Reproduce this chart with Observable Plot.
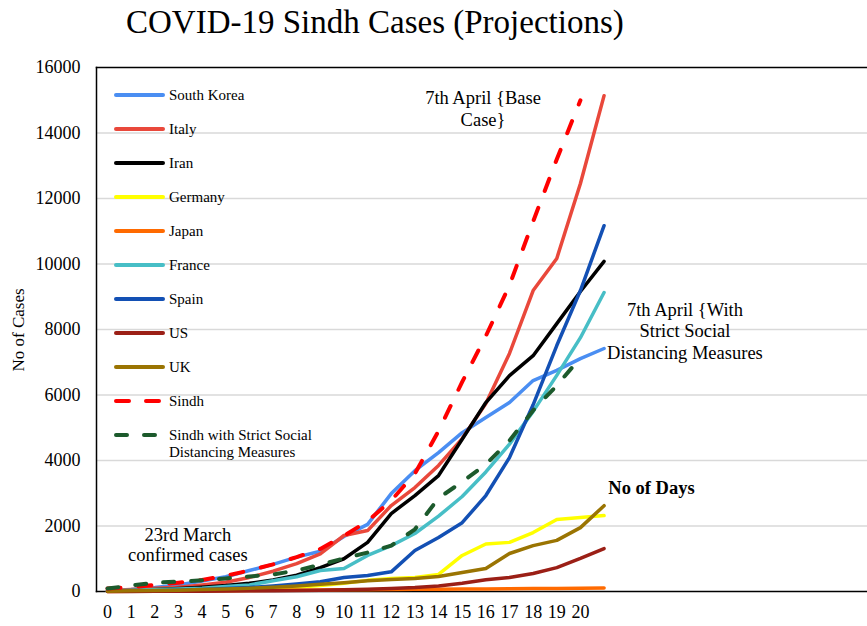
<!DOCTYPE html>
<html>
<head>
<meta charset="utf-8">
<script src="https://cdn.jsdelivr.net/npm/d3@7"></script>
<script src="https://cdn.jsdelivr.net/npm/@observablehq/plot@0.6"></script>
<style>
  html, body { margin: 0; padding: 0; background: #fff; }
  #wrap { position: relative; width: 867px; height: 626px; overflow: hidden; font-family: "Liberation Serif", "Times New Roman", serif; }
  #wrap svg, #wrap svg text, #wrap svg tspan { font-family: "Liberation Serif", "Times New Roman", serif !important; }
  #title { position: absolute; left: 126px; top: 3px; font-size: 33px; line-height: 38px; color: #000; white-space: nowrap; }
  #chart { position: absolute; left: 0; top: 0; }
  #overlay { position: absolute; left: 0; top: 0; pointer-events: none; }
</style>
</head>
<body>
<div id="wrap">
  <div id="chart"></div>
  <div id="title">COVID-19 Sindh Cases (Projections)</div>
  <svg id="overlay" width="867" height="626"></svg>
</div>
<script>
// ---- data ----
const days = [0,1,2,3,4,5,6,7,8,9,10,11,12,13,14,15,16,17,18,19,20,21];
const dayLabels = [0,1,2,3,4,5,6,7,8,9,10,11,12,13,14,15,16,17,18,19,20];
const caseTicks = [0,2000,4000,6000,8000,10000,12000,14000,16000];

const southKorea = [30,60,120,200,320,450,640,830,1050,1230,1680,2050,2990,3690,4240,4850,5310,5770,6440,6750,7110,7420];
const italy      = [30,60,100,130,200,280,430,620,850,1150,1710,1860,2625,3175,3850,4670,5740,7270,9190,10170,12460,15140];
const iran       = [10,30,60,90,130,180,250,350,500,730,1000,1500,2380,2930,3540,4650,5770,6590,7200,8180,9160,10080];
const germany    = [5,10,20,30,40,60,80,100,130,180,250,340,400,430,520,1100,1450,1500,1800,2200,2260,2320];
const japan      = [0,5,10,15,20,25,30,35,40,45,50,55,60,65,70,75,80,85,90,95,100,110];
const france     = [20,40,60,80,100,150,200,330,450,640,700,1100,1400,1770,2300,2900,3650,4500,5500,6600,7750,9130];
const spain      = [10,15,25,40,60,90,120,170,230,300,430,490,600,1250,1650,2100,2930,4090,5700,7510,9190,11170];
const us         = [0,2,5,8,10,15,20,25,30,40,50,70,90,120,170,250,360,430,550,730,1010,1310];
const uk         = [10,20,30,40,60,80,100,130,170,220,270,330,370,400,460,580,700,1160,1400,1560,1950,2620];
const sindh      = [90,130,200,270,350,480,640,830,1050,1300,1700,2150,2780,3600,4900,6400,7800,9350,11300,13200,15000];
const sindhStrict= [90,180,270,300,340,400,460,520,640,820,1010,1190,1400,1900,2850,3350,3880,4610,5530,6290,7140];

const seriesNames = ["South Korea","Italy","Iran","Germany","Japan","France","Spain","US","UK","Sindh","Sindh with Strict Social Distancing Measures"];
const seriesValues = [southKorea, italy, iran, germany, japan, france, spain, us, uk, sindh, sindhStrict];

// annotations (one entry per text line)
const annoText  = ["7th April {Base", "Case}", "7th April {With", "Strict Social", "Distancing Measures", "23rd March", "confirmed cases", "No of Days"];
const annoDay   = [15.88, 15.88, 24.42, 24.42, 24.42, 3.40, 3.40, 21.18];
const annoCases = [15300, 14630, 8800, 8160, 7510, 1930, 1320, 3390];

// ---- styles ----
const FONT = '"Liberation Serif", "Times New Roman", serif';
const seriesColors = ["#4a8ef2","#e9483b","#000000","#ffff00","#ff6a00","#47bec6","#1350b4","#9b1f16","#9a7402","#ff0000","#1c5a2c"];
const seriesDash   = [null,null,null,null,null,null,null,null,null,"13,18","11,17"];
const annoAnchor   = ["middle","middle","middle","middle","middle","middle","middle","start"];
const annoWeight   = ["normal","normal","normal","normal","normal","normal","normal","bold"];

const rows = seriesNames.flatMap((name, k) =>
  seriesValues[k].map((v, i) => ({series: name, day: days[i], cases: v})));

const lineMarks = seriesNames.map((name, k) =>
  Plot.line(rows.filter(r => r.series === name), {
    x: "day", y: "cases",
    stroke: seriesColors[k],
    strokeWidth: seriesDash[k] ? 4 : 3.5,
    strokeDasharray: seriesDash[k] || undefined,
    strokeLinecap: "round",
    strokeLinejoin: "round"
  }));

const annos = annoText.map((t, i) => ({t, day: annoDay[i], cases: annoCases[i], anchor: annoAnchor[i], weight: annoWeight[i]}));
const annoMarks = ["normal","bold"].flatMap(w => ["middle","start"].map(a =>
  Plot.text(annos.filter(d => d.weight === w && d.anchor === a), {
    x: "day", y: "cases", text: "t",
    textAnchor: a, lineAnchor: "top",
    fontSize: 18.5, fontWeight: w, fill: "#000", fontFamily: FONT
  })));

const chart = Plot.plot({
  width: 867,
  height: 626,
  marginTop: 67,
  marginBottom: 35,
  marginLeft: 96,
  marginRight: 0,
  style: {fontFamily: FONT, fontSize: "18px", color: "#000", background: "transparent"},
  x: {domain: [-0.465, 32.14], ticks: dayLabels, tickFormat: d => String(d), tickSize: 0, tickPadding: 14, label: null},
  y: {domain: [0, 16000], ticks: caseTicks, tickFormat: d => String(d), tickSize: 0, tickPadding: 16, label: null},
  marks: [
    Plot.ruleY(caseTicks.slice(1, -1), {stroke: "#d9d9d9", strokeWidth: 1.5}),
    Plot.frame({anchor: "top", stroke: "#000", strokeWidth: 1.5}),
    Plot.frame({anchor: "left", stroke: "#000", strokeWidth: 1.5}),
    Plot.frame({anchor: "bottom", stroke: "#000", strokeWidth: 1.5}),
    ...lineMarks,
    ...annoMarks
  ]
});
document.getElementById("chart").appendChild(chart);

// ---- legend & y-axis title overlay ----
const ov = d3.select("#overlay");
ov.append("text")
  .attr("transform", "translate(24,330) rotate(-90)")
  .attr("text-anchor", "middle")
  .style("font-family", FONT)
  .attr("font-size", 17)
  .attr("fill", "#000")
  .text("No of Cases");

const lg = ov.append("g").style("font-family", FONT).attr("font-size", 15).attr("fill", "#000");
seriesNames.forEach((name, k) => {
  const cy = 95 + 34 * k;
  lg.append("line")
    .attr("x1", 116).attr("x2", 163).attr("y1", cy).attr("y2", cy)
    .attr("stroke", seriesColors[k]).attr("stroke-width", 4)
    .attr("stroke-linecap", "round")
    .attr("stroke-dasharray", seriesDash[k] ? (k === 9 ? "13,17" : "11,17") : null);
  const label = k === 10 ? ["Sindh with Strict Social", "Distancing Measures"] : [name];
  label.forEach((t, j) => {
    lg.append("text").attr("x", 169).attr("y", cy + 4.5 + 17 * j).text(t);
  });
});
</script>
</body>
</html>
